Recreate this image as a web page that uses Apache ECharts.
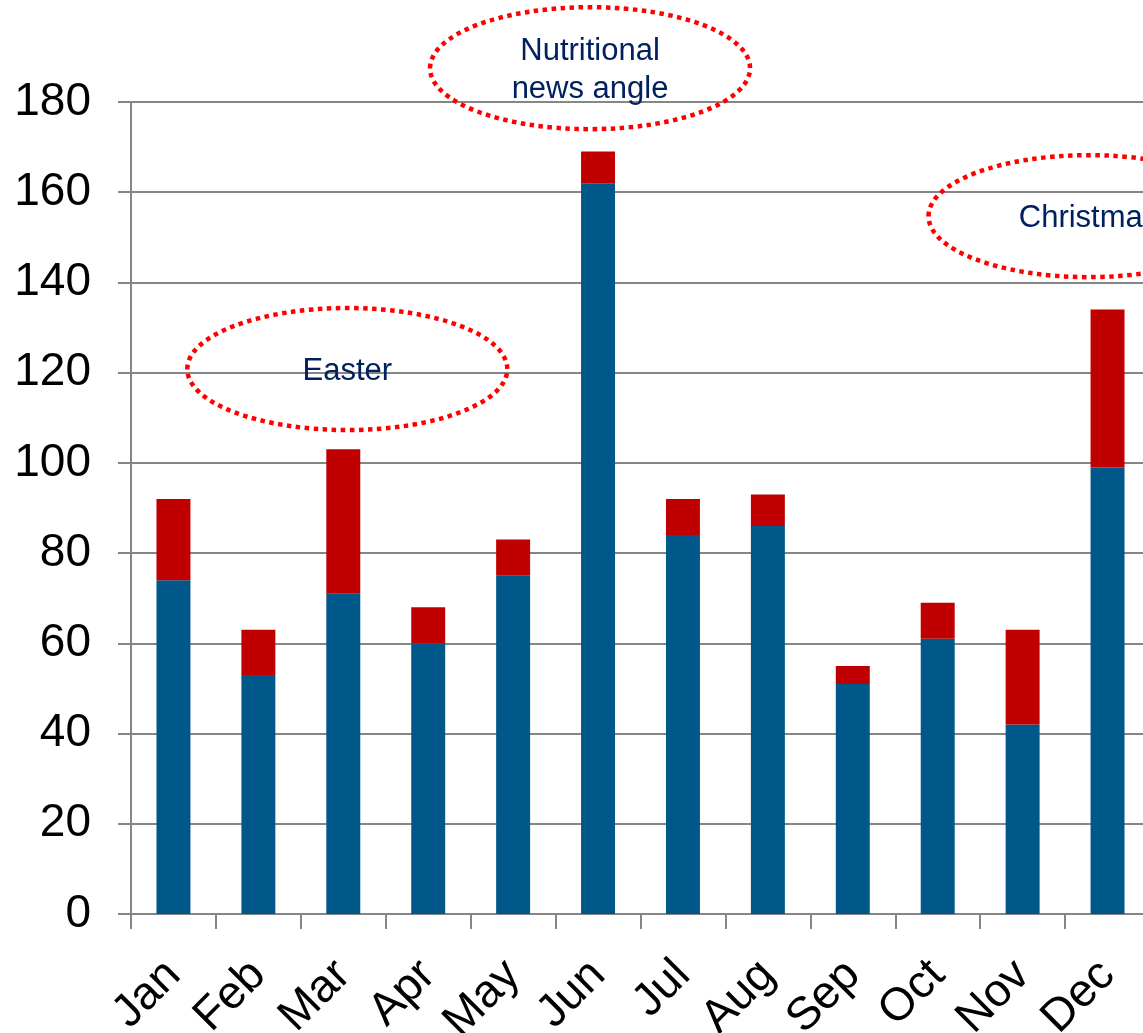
<!DOCTYPE html>
<html>
<head>
<meta charset="utf-8">
<script src="https://cdn.jsdelivr.net/npm/echarts@6/dist/echarts.min.js"></script>
<style>html,body{margin:0;padding:0;background:#fff;}#c{width:1143px;height:1033px;}</style>
</head>
<body>
<div id="c"></div>
<script>
const categories = ['Jan','Feb','Mar','Apr','May','Jun','Jul','Aug','Sep','Oct','Nov','Dec'];
const baseValues = [74, 53, 71, 60, 75, 162, 84, 86, 51, 61, 42, 99];
const extraValues = [18, 10, 32, 8, 8, 7, 8, 7, 4, 8, 21, 35];
const yTicks = [0, 20, 40, 60, 80, 100, 120, 140, 160, 180];
const annotations = [
  { lines: ['Easter'], cat: 2, offsetX: 4, y: 120.8 },
  { lines: ['Nutritional', 'news angle'], cat: 5, offsetX: -8, y: 187.5 },
  { lines: ['Christmas'], cat: 11, offsetX: -19, y: 154.7 }
];

const chart = echarts.init(document.getElementById('c'));
const axisGrey = '#868686';
const font = 'Liberation Sans, Arial, sans-serif';

chart.setOption({
  animation: false,
  grid: { left: 131, top: 102, bottom: 119, width: 1019, containLabel: false, outerBoundsMode: 'none' },
  xAxis: {
    type: 'category',
    data: categories,
    axisLine: { lineStyle: { color: axisGrey, width: 2 } },
    axisTick: { show: true, length: 15, alignWithLabel: false, lineStyle: { color: axisGrey, width: 2 } },
    axisLabel: { rotate: 45, fontSize: 46, color: '#000', fontFamily: font, margin: 54, interval: 0 }
  },
  yAxis: {
    type: 'value',
    min: yTicks[0],
    max: yTicks[yTicks.length - 1],
    interval: 20,
    axisLine: { show: true, lineStyle: { color: axisGrey, width: 2 } },
    axisTick: { show: true, length: 13, lineStyle: { color: axisGrey, width: 2 } },
    axisLabel: { fontSize: 46, color: '#000', fontFamily: font, margin: 40 },
    splitLine: { show: true, lineStyle: { color: axisGrey, width: 2 } }
  },
  series: [
    { type: 'bar', stack: 'a', data: baseValues, barWidth: '40%', itemStyle: { color: '#00578A' } },
    { type: 'bar', stack: 'a', data: extraValues, barWidth: '40%', itemStyle: { color: '#C00000' } }
  ]
});

const graphics = [];
annotations.forEach(a => {
  const px = chart.convertToPixel({ xAxisIndex: 0 }, categories[a.cat]) + a.offsetX;
  const py = chart.convertToPixel({ yAxisIndex: 0 }, a.y);
  graphics.push({
    type: 'ellipse', z: 10,
    shape: { cx: px, cy: py, rx: 160, ry: 61 },
    style: { fill: 'none', stroke: '#FF0000', lineWidth: 4.5, lineDash: [4.5, 4.5] }
  });
  const lh = 38;
  const startY = py - (a.lines.length - 1) * lh / 2 + 2;
  a.lines.forEach((t, i) => {
    graphics.push({
      type: 'text', z: 11,
      style: {
        text: t, x: px, y: startY + i * lh,
        font: '31px ' + font, fill: '#002060',
        align: 'center', verticalAlign: 'middle',
        textAlign: 'center', textVerticalAlign: 'middle'
      }
    });
  });
});
chart.setOption({ graphic: graphics });
</script>
</body>
</html>
